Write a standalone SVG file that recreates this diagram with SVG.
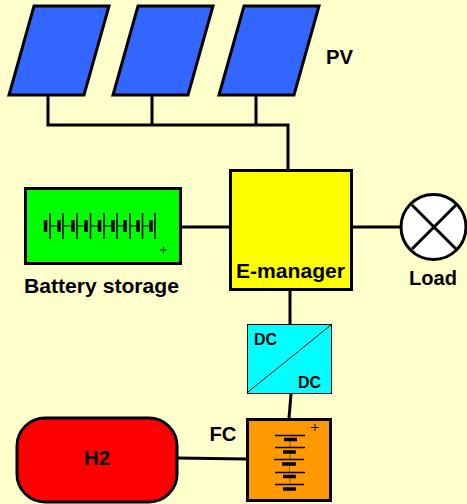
<svg xmlns="http://www.w3.org/2000/svg" width="467" height="504" viewBox="0 0 467 504">
<style>
.o{stroke:#000;stroke-width:3}
.w{fill:none;stroke:#000;stroke-width:3}
.t{font-family:"Liberation Sans",Arial,sans-serif;font-weight:bold;fill:#000;text-anchor:middle;font-size:20px}
.s{font-size:16px}
.thin{fill:none;stroke:#000;stroke-width:1.5}
.cell{fill:none;stroke:#000;stroke-width:1}
</style>
<rect width="467" height="504" fill="#ffffcc"/>
<g id="connectors">
<path class="w" d="M48 96V125H288V170M152 96V125M256 96V125"/>
<path class="w" d="M181 227H230M352 227H401M290 290V325M291 394L289 418M177 458L247 459"/>
</g>
<g id="pv1"><path class="o" fill="#3366ff" d="M34 6H109L84 95H9Z"/></g>
<g id="pv2"><path class="o" fill="#3366ff" d="M138 6H213L188 95H113Z"/></g>
<g id="pv3"><path class="o" fill="#3366ff" d="M244 6H319L294 95H219Z"/></g>
<g id="pv-label"><text class="t" x="339.500" y="64" textLength="27" lengthAdjust="spacingAndGlyphs">PV</text></g>
<g id="battery">
<rect class="o" fill="#00ff00" x="25.500" y="188.500" width="155" height="75"/>
<path class="cell" d="M50 226H59M63 226H73M77 226H86M90.500 226H99.500M104 226H113M117 226H125M130 226H138M142.500 226H151"/>
<path class="thin" d="M50 213V239M63 213V239M77 213V239M90.500 213V239M104 213V239M117 213V239M130 213V239M142.500 213V239M155 213V239"/>
<path fill="none" stroke="#000" stroke-width="3.500" d="M45.500 220V232M59 220V232M73 220V232M86 220V232M99.500 220V232M113 220V232M125 220V232M138 220V232M151 220V232"/>
<path class="cell" d="M160 250H167M163.500 247V253"/>
<text class="t" x="101.500" y="293" textLength="155" lengthAdjust="spacingAndGlyphs">Battery storage</text>
</g>
<g id="emanager">
<rect class="o" fill="#ffff00" x="230.500" y="170.500" width="121" height="119"/>
<text class="t" x="290.500" y="278" textLength="109" lengthAdjust="spacingAndGlyphs">E-manager</text>
</g>
<g id="load">
<circle class="o" fill="#fff" cx="433.500" cy="227" r="32.500" stroke-width="4"/>
<path class="w" d="M412 205L456 249M456 205L412 249"/>
<text class="t" x="433" y="285" textLength="48" lengthAdjust="spacingAndGlyphs">Load</text>
</g>
<g id="dcdc">
<rect fill="#00ffff" stroke="#000" x="247.500" y="324.500" width="84" height="69"/>
<path stroke="#000" d="M248 392L331 325"/>
<text class="t s" x="265.500" y="345" textLength="23" lengthAdjust="spacingAndGlyphs">DC</text>
<text class="t s" x="309.500" y="388" textLength="23" lengthAdjust="spacingAndGlyphs">DC</text>
</g>
<g id="fc">
<rect class="o" fill="#ff9900" x="247.500" y="419.500" width="83" height="81" stroke-width="4"/>
<path stroke="#806000" stroke-width="1" d="M290 439V448M290 452V460M289.500 464V472M290 476V485"/>
<path class="thin" d="M275 435.500H305M275 447.500H305M274 459.500H304M275 472.500H305M275 484.500H304"/>
<path fill="none" stroke="#000" stroke-width="3.500" d="M284 439.500H297M283 452H296M282 464H296M283 476.500H296M283 489H296"/>
<path class="cell" d="M311 427.500H319M315 424V431"/>
<text class="t" x="223" y="441" textLength="27" lengthAdjust="spacingAndGlyphs">FC</text>
</g>
<g id="h2">
<rect class="o" fill="#ff0000" x="17" y="418" width="160" height="84" rx="28" ry="28" stroke-width="3.500"/>
<text class="t" x="97" y="465" textLength="26" lengthAdjust="spacingAndGlyphs">H2</text>
</g>
</svg>
